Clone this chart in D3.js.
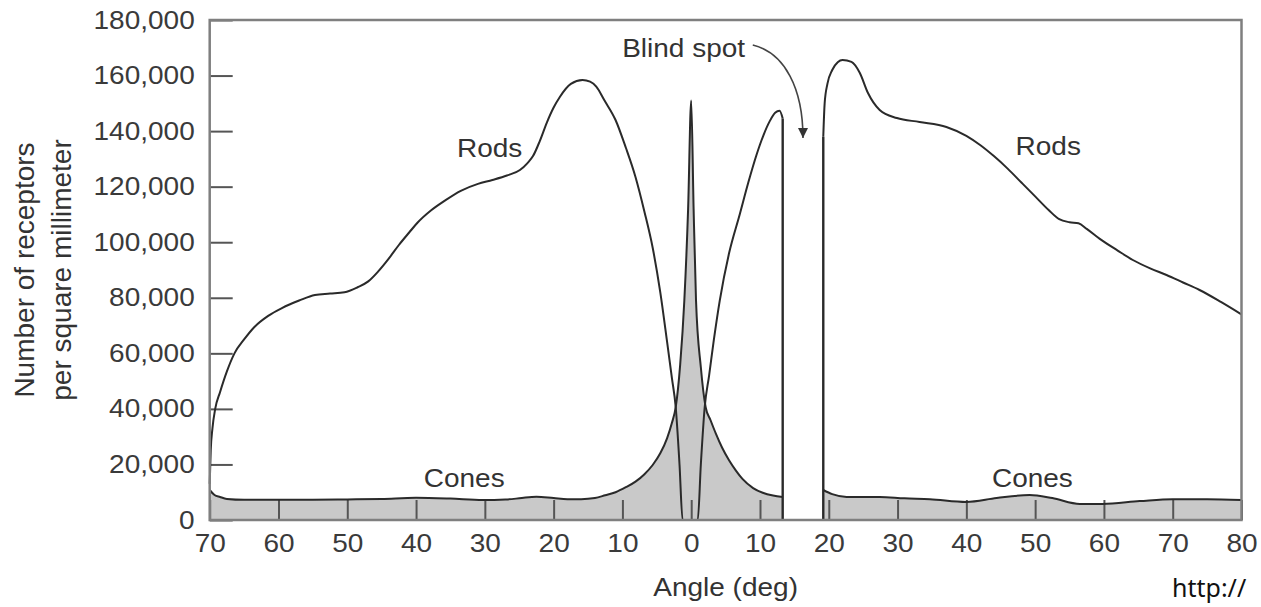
<!DOCTYPE html>
<html><head><meta charset="utf-8">
<script src="https://cdn.jsdelivr.net/npm/d3@7"></script>
<style>body{margin:0;background:#fff}svg{display:block}</style>
</head><body>
<svg id="c" width="1261" height="607"></svg>
<script>
// ---------- data (angle in degrees, density in receptors / mm²) ----------
const xTicks = [-70,-60,-50,-40,-30,-20,-10,0,10,20,30,40,50,60,70,80];
const yTicks = [0,20000,40000,60000,80000,100000,120000,140000,160000,180000];
const blindSpot = [13.3, 19.2];

const rodsLeft = [
 [-70,13000],[-69.85,25000],[-69.6,33000],[-69.2,40000],[-68.5,46000],[-67.5,53500],
 [-66.4,60000],[-65,65000],[-63.5,69500],[-61.5,73500],[-59.5,76300],[-57,79000],
 [-54.7,81000],[-52.5,81500],[-50.4,82000],[-48.5,83800],[-47,85800],[-45.5,89500],
 [-44,94000],[-42.5,99000],[-41,103500],[-39.8,107000],[-37.8,111500],[-35.8,115000],
 [-33.5,118500],[-31,121000],[-28.9,122400],[-26.8,124000],[-24.9,126000],[-23.8,128500],
 [-23,131000],[-22,136500],[-21,143000],[-20,148500],[-19.1,152300],[-17.5,157000],
 [-15.8,158400],[-14.7,157800],[-13.8,156000],[-12.6,151000],[-11,144000],[-9.5,134000],
 [-8.1,123500],[-6.8,111000],[-5.6,98000],[-4.5,82000],[-3.5,64000],[-2.8,51000],
 [-2.25,40600],[-1.7,20000],[-1.25,0],[0,0],[0.95,0],[1.4,20000],[1.96,40600],[2.6,52000],
 [3.3,65000],[4.15,79000],[5.5,96000],[7.05,110000],[8.3,121500],[9.5,131500],
 [10.5,138500],[11.4,143500],[12.2,146600],[12.85,147300],[13.3,144500]
];
const rodsRight = [
 [19.2,138000],[19.4,150000],[19.8,157000],[20.5,162000],[21.3,164800],[22,165600],
 [23.3,164900],[24.5,161000],[25.7,153700],[27.4,147600],[29.9,144700],[33.2,143300],
 [37.1,141500],[40,138300],[42,135000],[44,131000],[46,126500],[48,121500],[50,116500],
 [52,111500],[53.5,108300],[55,107200],[56.3,106800],[57.5,104800],[59.4,101200],
 [62,97000],[64.2,93600],[66.8,90500],[69.1,88200],[71.5,85500],[73.9,82800],
 [77,78500],[80,74000]
];
const conesLeft = [
 [-70,10800],[-69.3,9000],[-68.5,8300],[-67.5,7600],[-65,7300],[-60,7300],[-55,7300],
 [-50,7400],[-45,7600],[-40,8000],[-35,7700],[-30.3,7200],[-27,7400],[-25,7800],
 [-22.5,8400],[-20,7900],[-18,7500],[-16,7500],[-14,7900],[-12.5,8900],[-11,10000],
 [-9.5,11800],[-8.1,13800],[-6.8,16500],[-5.6,19800],[-4.5,24000],[-3.5,29500],
 [-2.8,35000],[-2.25,40600],[-1.6,56000],[-1.0,79000],[-0.45,112000],[0,151000],
 [0.35,112000],[0.7,79000],[1.4,55000],[2.1,40600],[2.8,36000],[3.6,31000],[4.5,26000],
 [5.5,21500],[6.5,17800],[7.45,14800],[9,11500],[10.4,9800],[11.9,8800],[13.3,8300]
];
const conesRight = [
 [19.2,10800],[20.5,9300],[22.6,8300],[27.4,8300],[31,7800],[34.7,7500],[40,6500],
 [44.4,7900],[49.2,9000],[52.5,7900],[56.5,5800],[59.8,5800],[65.2,6800],[70,7500],
 [75,7500],[80,7200]
];

// ---------- layout ----------
const svg = d3.select("#c");
const x = d3.scaleLinear().domain([-70, 80]).range([209.7, 1241.5]);
const y = d3.scaleLinear().domain([0, 180000]).range([520, 20]);
const FONT = "'Liberation Sans', Arial, Helvetica, sans-serif";
const STRETCH = 1.12;
const ink = "#2a2a2a";

const area = d3.area().x(d => x(d[0])).y0(y(0)).y1(d => y(d[1])).curve(d3.curveMonotoneX);
const line = d3.line().x(d => x(d[0])).y(d => y(d[1])).curve(d3.curveMonotoneX);
const straight = d3.line().x(d => x(d[0])).y(d => y(d[1]));

// cone fill
[conesLeft, conesRight].forEach(c =>
  svg.append("path").attr("d", area(c)).attr("fill", "#c9c9c9"));

// axes ticks (inner)
const xAxis = d3.axisBottom(x).tickValues(xTicks).tickSizeInner(-20).tickSizeOuter(0)
  .tickPadding(14).tickFormat(d => Math.abs(d));
const gx = svg.append("g").attr("transform", `translate(0,${y(0)})`).call(xAxis);
const yAxis = d3.axisLeft(y).tickValues(yTicks).tickSizeInner(-23).tickSizeOuter(0)
  .tickPadding(15).tickFormat(d3.format(","));
const gy = svg.append("g").attr("transform", `translate(${x(-70)},0)`).call(yAxis);
[gx, gy].forEach(g => {
  g.select(".domain").remove();
  g.selectAll(".tick line").attr("stroke", "#555").attr("stroke-width", 2);
  g.selectAll(".tick text").attr("font-family", FONT).attr("font-size", 25).attr("fill", "#3a3a3a");
});
gx.selectAll(".tick text").attr("transform", `scale(${STRETCH},1)`);
gy.selectAll(".tick text").attr("x", -15 / STRETCH).attr("transform", `scale(${STRETCH},1)`);

// cone lines
[conesLeft, conesRight].forEach(c =>
  svg.append("path").attr("d", line(c)).attr("fill", "none").attr("stroke", ink).attr("stroke-width", 2));

// rod lines
[rodsLeft, rodsRight].forEach(r =>
  svg.append("path").attr("d", line(r)).attr("fill", "none").attr("stroke", ink).attr("stroke-width", 2));
// blind spot edges
const lastL = rodsLeft[rodsLeft.length - 1], firstR = rodsRight[0];
svg.append("path").attr("d", straight([[blindSpot[0], lastL[1]], [blindSpot[0], 0]]))
  .attr("stroke", ink).attr("stroke-width", 2.4);
svg.append("path").attr("d", straight([[blindSpot[1], 0], [blindSpot[1], firstR[1]]]))
  .attr("stroke", ink).attr("stroke-width", 2.4);

// frame
svg.append("rect").attr("x", x(-70)).attr("y", y(180000))
  .attr("width", x(80) - x(-70)).attr("height", y(0) - y(180000))
  .attr("fill", "none").attr("stroke", "#7f7f7f").attr("stroke-width", 2.5);

// labels
function label(txt, deg, val, size) {
  svg.append("text").attr("transform", `translate(${x(deg)},${y(val)}) scale(${STRETCH},1)`)
    .attr("text-anchor", "middle").attr("font-family", FONT).attr("font-size", size || 25)
    .attr("fill", "#333").text(txt);
}
label("Rods", -29.3, 130700);
label("Rods", 51.9, 131400);
label("Cones", -33.0, 11900);
label("Cones", 49.6, 11900);
label("Blind spot", -1.1, 166700);

// blind spot arrow
svg.append("defs").append("marker").attr("id", "ah").attr("viewBox", "0 0 10 10")
  .attr("refX", 10).attr("refY", 5).attr("markerWidth", 10).attr("markerHeight", 10)
  .attr("markerUnits", "userSpaceOnUse").attr("orient", "auto")
  .append("path").attr("d", "M0,0L10,5L0,10Z").attr("fill", "#333");
const a0 = [x(8.95), y(171000)], a1 = [x(16.25), y(137500)];
svg.append("path")
  .attr("d", `M${a0[0]},${a0[1]} C${a0[0] + 32},${a0[1] + 8} ${a1[0]},${a1[1] - 50} ${a1[0]},${a1[1]}`)
  .attr("fill", "none").attr("stroke", "#444").attr("stroke-width", 1.6).attr("marker-end", "url(#ah)");

// axis titles
svg.append("text").attr("transform", `translate(${(x(-70) + x(80)) / 2},596) scale(${STRETCH},1)`)
  .attr("text-anchor", "middle").attr("font-family", FONT).attr("font-size", 25)
  .attr("fill", "#333").text("Angle (deg)");
const yt = svg.append("text").attr("transform", "translate(0,270) rotate(-90)")
  .attr("text-anchor", "middle").attr("font-family", FONT).attr("font-size", 28).attr("fill", "#333");
yt.append("tspan").attr("x", 0).attr("y", 34).text("Number of receptors");
yt.append("tspan").attr("x", 0).attr("y", 71).text("per square millimeter");

// source url (cut off at the right edge in the original)
svg.append("text").attr("x", 1172).attr("y", 597).attr("font-family", "'Noto Sans', sans-serif")
  .attr("font-size", 25).attr("fill", "#111").text("http://");
</script>
</body></html>
